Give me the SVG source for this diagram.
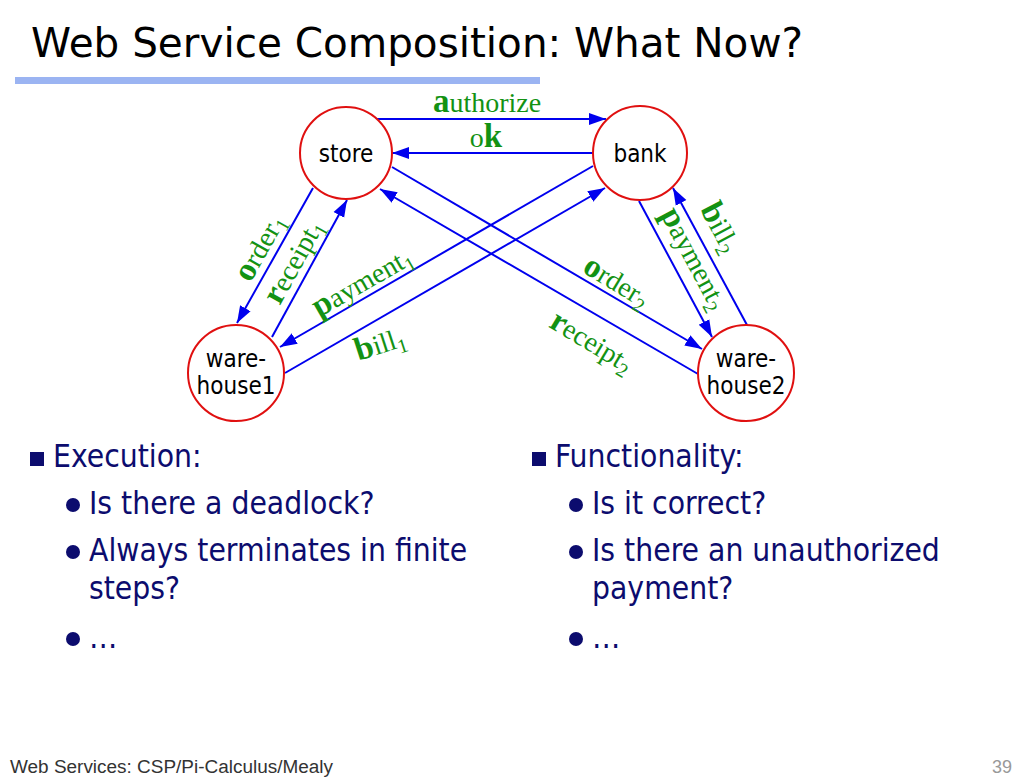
<svg xmlns="http://www.w3.org/2000/svg" width="1023" height="780" viewBox="0 0 1023 780">
<style>
.node{fill:#fff;stroke:#e01010;stroke-width:2}
.nt{font-family:"DejaVu Sans",Verdana,sans-serif;font-stretch:condensed;font-size:24px;fill:#000;text-anchor:middle}
.edge{stroke:#0000ee;stroke-width:2;fill:none;marker-end:url(#arr)}
.lab{font-family:"Liberation Serif","Times New Roman",serif;font-size:28px;fill:#139213;text-anchor:middle}
.b{font-weight:bold;font-size:33px}
.s{font-size:20px}
.bt{font-family:"DejaVu Sans",sans-serif;font-stretch:condensed;font-size:31.5px;fill:#0c0c6e}
.navy{fill:#0c0c6e}
</style>
<defs>
<marker id="arr" markerUnits="userSpaceOnUse" markerWidth="18" markerHeight="13" refX="17" refY="6" orient="auto" viewBox="0 0 18 12">
<path d="M0,0 L17,6 L0,12 z" fill="#0000ee"/>
</marker>
</defs>
<rect width="1023" height="780" fill="#fff"/>
<g id="title">
<text x="31" y="57" font-family="'Comic Sans MS','DejaVu Sans',sans-serif" font-size="40" fill="#000" textLength="772" lengthAdjust="spacingAndGlyphs">Web Service Composition: What Now?</text>
<rect x="15" y="77" width="525" height="7" fill="#9bb4f2"/>
</g>
<g id="connectors">
<line class="edge" x1="377" y1="119" x2="606" y2="119"/>
<line class="edge" x1="593" y1="153" x2="392" y2="153"/>
<line class="edge" x1="313" y1="188" x2="237" y2="323"/>
<line class="edge" x1="272" y1="337" x2="347" y2="200"/>
<line class="edge" x1="593" y1="166" x2="280" y2="347"/>
<line class="edge" x1="285" y1="373" x2="605" y2="188"/>
<line class="edge" x1="392" y1="167" x2="702" y2="349"/>
<line class="edge" x1="698" y1="374" x2="380" y2="189"/>
<line class="edge" x1="639" y1="201" x2="712" y2="337"/>
<line class="edge" x1="747" y1="325" x2="673" y2="188"/>
</g>
<g id="labels">
<text class="lab" x="487" y="112"><tspan class="b">a</tspan>uthorize</text>
<text class="lab" x="486" y="147">o<tspan class="b">k</tspan></text>
<text class="lab" transform="translate(268,252) rotate(-60.5)"><tspan class="b">o</tspan>rder<tspan class="s" dy="6">1</tspan></text>
<text class="lab" transform="translate(302,266) rotate(-61)"><tspan class="b">r</tspan>eceipt<tspan class="s" dy="6">1</tspan></text>
<text class="lab" transform="translate(367,290) rotate(-30)"><tspan class="b">p</tspan>ayment<tspan class="s" dy="6">1</tspan></text>
<text class="lab" transform="translate(383,353) rotate(-18)"><tspan class="b">b</tspan>ill<tspan class="s" dy="6">1</tspan></text>
<text class="lab" transform="translate(612,290) rotate(31)"><tspan class="b">o</tspan>rder<tspan class="s" dy="6">2</tspan></text>
<text class="lab" transform="translate(587,350) rotate(31)"><tspan class="b">r</tspan>eceipt<tspan class="s" dy="6">2</tspan></text>
<text class="lab" transform="translate(686,263) rotate(62)"><tspan class="b">p</tspan>ayment<tspan class="s" dy="6">2</tspan></text>
<text class="lab" transform="translate(712,232) rotate(62)"><tspan class="b">b</tspan>ill<tspan class="s" dy="6">2</tspan></text>
</g>
<g id="store"><circle class="node" cx="346" cy="153" r="46"/><text class="nt" x="346" y="162">store</text></g>
<g id="bank"><circle class="node" cx="640" cy="153" r="47"/><text class="nt" x="640" y="162">bank</text></g>
<g id="warehouse1"><circle class="node" cx="236" cy="373" r="48"/><text class="nt" x="236" y="367">ware-</text><text class="nt" x="236" y="394">house1</text></g>
<g id="warehouse2"><circle class="node" cx="746" cy="373" r="48"/><text class="nt" x="746" y="367">ware-</text><text class="nt" x="746" y="394">house2</text></g>
<g id="left-bullets">
<rect class="navy" x="30" y="452" width="14" height="14"/>
<text class="bt" x="53" y="467">Execution:</text>
<circle class="navy" cx="73" cy="505" r="7"/>
<text class="bt" x="89" y="514">Is there a deadlock?</text>
<circle class="navy" cx="73" cy="552" r="7"/>
<text class="bt" x="89" y="561">Always terminates in finite</text>
<text class="bt" x="89" y="599">steps?</text>
<circle class="navy" cx="73" cy="639" r="7"/>
<text class="bt" x="89" y="648">…</text>
</g>
<g id="right-bullets">
<rect class="navy" x="532" y="452" width="14" height="14"/>
<text class="bt" x="555" y="467">Functionality:</text>
<circle class="navy" cx="576" cy="505" r="7"/>
<text class="bt" x="592" y="514">Is it correct?</text>
<circle class="navy" cx="576" cy="552" r="7"/>
<text class="bt" x="592" y="561">Is there an unauthorized</text>
<text class="bt" x="592" y="599">payment?</text>
<circle class="navy" cx="576" cy="639" r="7"/>
<text class="bt" x="592" y="648">…</text>
</g>
<g id="footer">
<text x="10" y="773" font-family="'Liberation Sans',Arial,sans-serif" font-size="18" fill="#333" textLength="323" lengthAdjust="spacingAndGlyphs">Web Services: CSP/Pi-Calculus/Mealy</text>
<text x="1012" y="773" font-family="'Liberation Sans',Arial,sans-serif" font-size="18" fill="#999" text-anchor="end">39</text>
</g>
</svg>
